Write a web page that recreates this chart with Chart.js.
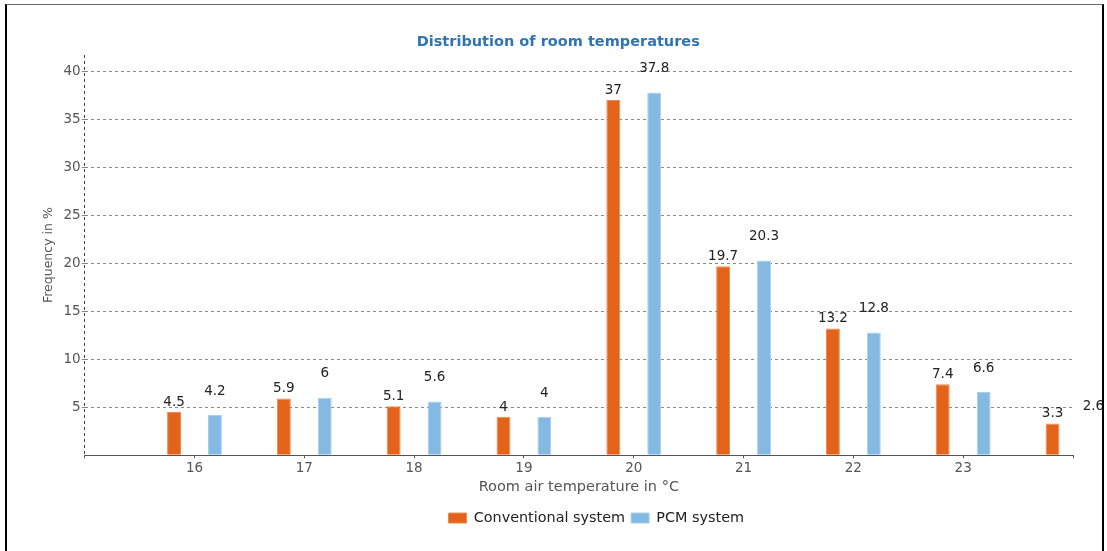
<!DOCTYPE html>
<html>
<head>
<meta charset="utf-8">
<script src="https://cdn.jsdelivr.net/npm/chart.js@4/dist/chart.umd.min.js"></script>
<style>
  html, body { margin: 0; padding: 0; background: #fff; }
  #wrap { position: relative; width: 1107px; height: 551px; overflow: hidden; }
  #frame {
    position: absolute; left: 5px; top: 4px; width: 1095px; height: 600px;
    border-left: 2px solid #000; border-right: 2px solid #000; border-top: 1px solid #666;
    pointer-events: none;
  }
</style>
</head>
<body>
<div id="wrap">
  <canvas id="myChart" width="1107" height="551"></canvas>
  <div id="frame"></div>
</div>
<script>
// room temperature classes (15 and 24 are only the axis ends)
const temperatures = ['15', '16', '17', '18', '19', '20', '21', '22', '23', '24'];
const conventional = [null, 4.5, 5.9, 5.1, 4, 37, 19.7, 13.2, 7.4, 3.3];
const pcm = [null, 4.2, 6, 5.6, 4, 37.8, 20.3, 12.8, 6.6, 2.6];
const yTicks = [5, 10, 15, 20, 25, 30, 35, 40];

const valueLabels = {
  id: 'valueLabels',
  afterDatasetsDraw(chart) {
    const ctx = chart.ctx;
    const lift = [3, 17];
    ctx.save();
    ctx.font = '13.5px "DejaVu Sans"';
    ctx.fillStyle = '#222';
    ctx.textAlign = 'center';
    ctx.textBaseline = 'bottom';
    chart.data.datasets.forEach((ds, i) => {
      chart.getDatasetMeta(i).data.forEach((bar, j) => {
        const v = ds.data[j];
        if (v == null) return;
        ctx.fillText(String(v), bar.x, bar.y - lift[i]);
      });
    });
    ctx.restore();
  }
};

// title and legend sit a bit right of centre in the original
const nudge = {
  id: 'nudge',
  afterLayout(chart) {
    chart.legend.left += 41;
    chart.legend.right += 41;
    chart.titleBlock.left += 3;
    chart.titleBlock.right += 3;
  }
};

Chart.defaults.font.family = '"DejaVu Sans", Verdana, sans-serif';
Chart.defaults.font.size = 13.5;
Chart.defaults.color = '#555';

const ctx = document.getElementById('myChart');

new Chart(ctx, {
  type: 'bar',
  data: {
    labels: temperatures,
    datasets: [
      {
        label: 'Conventional system',
        data: conventional,
        backgroundColor: '#E3631A',
        borderColor: '#EE8A4E',
        borderWidth: 1,
      },
      {
        label: 'PCM system',
        data: pcm,
        backgroundColor: '#84B9E2',
        borderColor: '#A9CFEC',
        borderWidth: 1,
      },
    ],
  },
  options: {
    responsive: false,
    animation: false,
    categoryPercentage: 0.745,
    barPercentage: 0.34,
    layout: { padding: { left: 37.5, right: 34, top: 0, bottom: 15.75 } },
    plugins: {
      title: {
        display: true,
        text: 'Distribution of room temperatures',
        color: '#2F74B5',
        font: { size: 14.5, weight: 'bold' },
        padding: { top: 33.3, bottom: 4.3 },
      },
      legend: {
        position: 'bottom',
        labels: { boxWidth: 18, boxHeight: 10, padding: 6, color: '#222', font: { size: 14.4 } },
      },
      tooltip: { enabled: false },
    },
    scales: {
      x: {
        offset: false,
        ticks: {
          autoSkip: false,
          maxRotation: 0,
          padding: 2,
          callback: function (v) {
            const l = this.getLabelForValue(v);
            return (l === '15' || l === '24') ? '' : l;
          },
        },
        grid: {
          offset: false,
          color: c => c.index === 0 ? '#444' : 'rgba(0,0,0,0)',
          tickColor: '#555',
          tickLength: 3,
        },
        border: { color: '#555', dash: [3, 3] },
        title: {
          display: true,
          text: 'Room air temperature in °C',
          font: { size: 14.5 },
          padding: { top: 0, bottom: 9 },
        },
      },
      y: {
        min: 0,
        max: 41.7,
        ticks: {
          stepSize: 5,
          padding: 1,
          callback: v => yTicks.includes(v) ? v : '',
        },
        grid: {
          color: c => (c.tick && yTicks.includes(c.tick.value)) ? '#888' : 'rgba(0,0,0,0)',
          tickLength: 3,
        },
        border: { display: false, dash: [3, 3] },
        title: {
          display: true,
          text: 'Frequency in %',
          font: { size: 12.5 },
          padding: { top: 4, bottom: 6 },
        },
      },
    },
  },
  plugins: [valueLabels, nudge],
});
</script>
</body>
</html>
